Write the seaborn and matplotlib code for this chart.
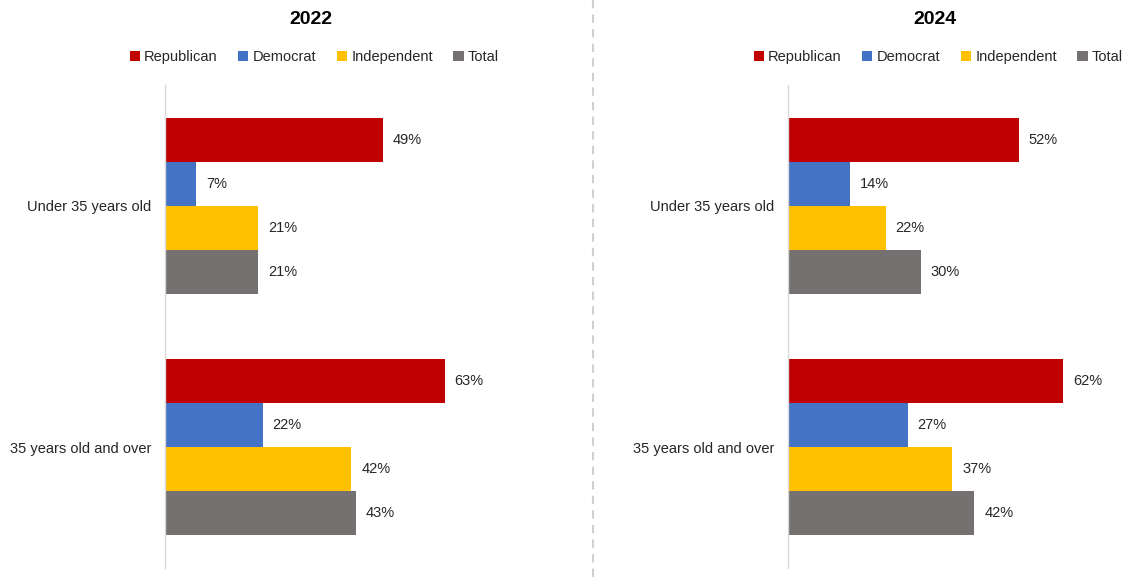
import matplotlib
matplotlib.use('Agg')
import matplotlib.pyplot as plt
import seaborn as sns
import pandas as pd

# Data
ages = ['Under 35 years old', '35 years old and over']
parties = ['Republican', 'Democrat', 'Independent', 'Total']
values_2022 = {
    'Republican': [49, 63],
    'Democrat': [7, 22],
    'Independent': [21, 42],
    'Total': [21, 43],
}
values_2024 = {
    'Republican': [52, 62],
    'Democrat': [14, 27],
    'Independent': [22, 37],
    'Total': [30, 42],
}
years = ['2022', '2024']

colors = {
    'Republican': '#C00000',
    'Democrat': '#4472C4',
    'Independent': '#FFC000',
    'Total': '#767171',
}

sns.set_style('white')
plt.rcParams['font.family'] = ['Liberation Sans', 'DejaVu Sans']


def to_long(values):
    rows = []
    for party in parties:
        for age, v in zip(ages, values[party]):
            rows.append({'Age': age, 'Party': party, 'Value': v})
    return pd.DataFrame(rows)


W, H = 1124, 577
fig = plt.figure(figsize=(W / 100, H / 100), dpi=100)

# (values, axis left px, xmax, title centre px)
panels = [
    (values_2022, 165, 80, 311),
    (values_2024, 788, 70, 935),
]

for (values, left_px, xmax, title_x), year in zip(panels, years):
    width_px = 4.44 * xmax
    ax = fig.add_axes([left_px / W, 9 / H, width_px / W, 483 / H])
    df = to_long(values)
    sns.barplot(data=df, y='Age', x='Value', hue='Party', palette=colors,
                hue_order=parties, order=ages, width=0.727, orient='h',
                ax=ax, legend=True, saturation=1, edgecolor='none')
    for cont in ax.containers:
        ax.bar_label(cont, fmt='%d%%', padding=7, fontsize=10.5, color='#262626')
    ax.set_xlim(0, xmax)
    ax.set_ylim(1.5, -0.5)
    ax.set_xlabel('')
    ax.set_ylabel('')
    ax.set_xticks([])
    for s in ['top', 'right', 'bottom']:
        ax.spines[s].set_visible(False)
    ax.spines['left'].set_color('#D9D9D9')
    ax.spines['left'].set_linewidth(1)
    ax.tick_params(axis='y', length=0, pad=10, labelsize=10.5, labelcolor='#262626')

    handles, labels = ax.get_legend_handles_labels()
    ax.get_legend().remove()
    fig.legend(handles, labels, loc='center', bbox_to_anchor=(title_x / W + 0.003, 1 - 57 / H),
               ncol=4, frameon=False, fontsize=10.5, handlelength=0.7, handleheight=0.7,
               handletextpad=0.3, columnspacing=1.4, labelcolor='#262626')
    fig.text(title_x / W, 1 - 20 / H, year, ha='center', va='center',
             fontsize=14, fontweight='bold', color='#000000')

# dashed divider between the two panels
fig.add_artist(plt.Line2D([593 / W, 593 / W], [0, 1], transform=fig.transFigure,
                          color='#D0D0D0', linestyle=(0, (4, 3)), linewidth=1.5))

fig.savefig('out.png', dpi=100)
